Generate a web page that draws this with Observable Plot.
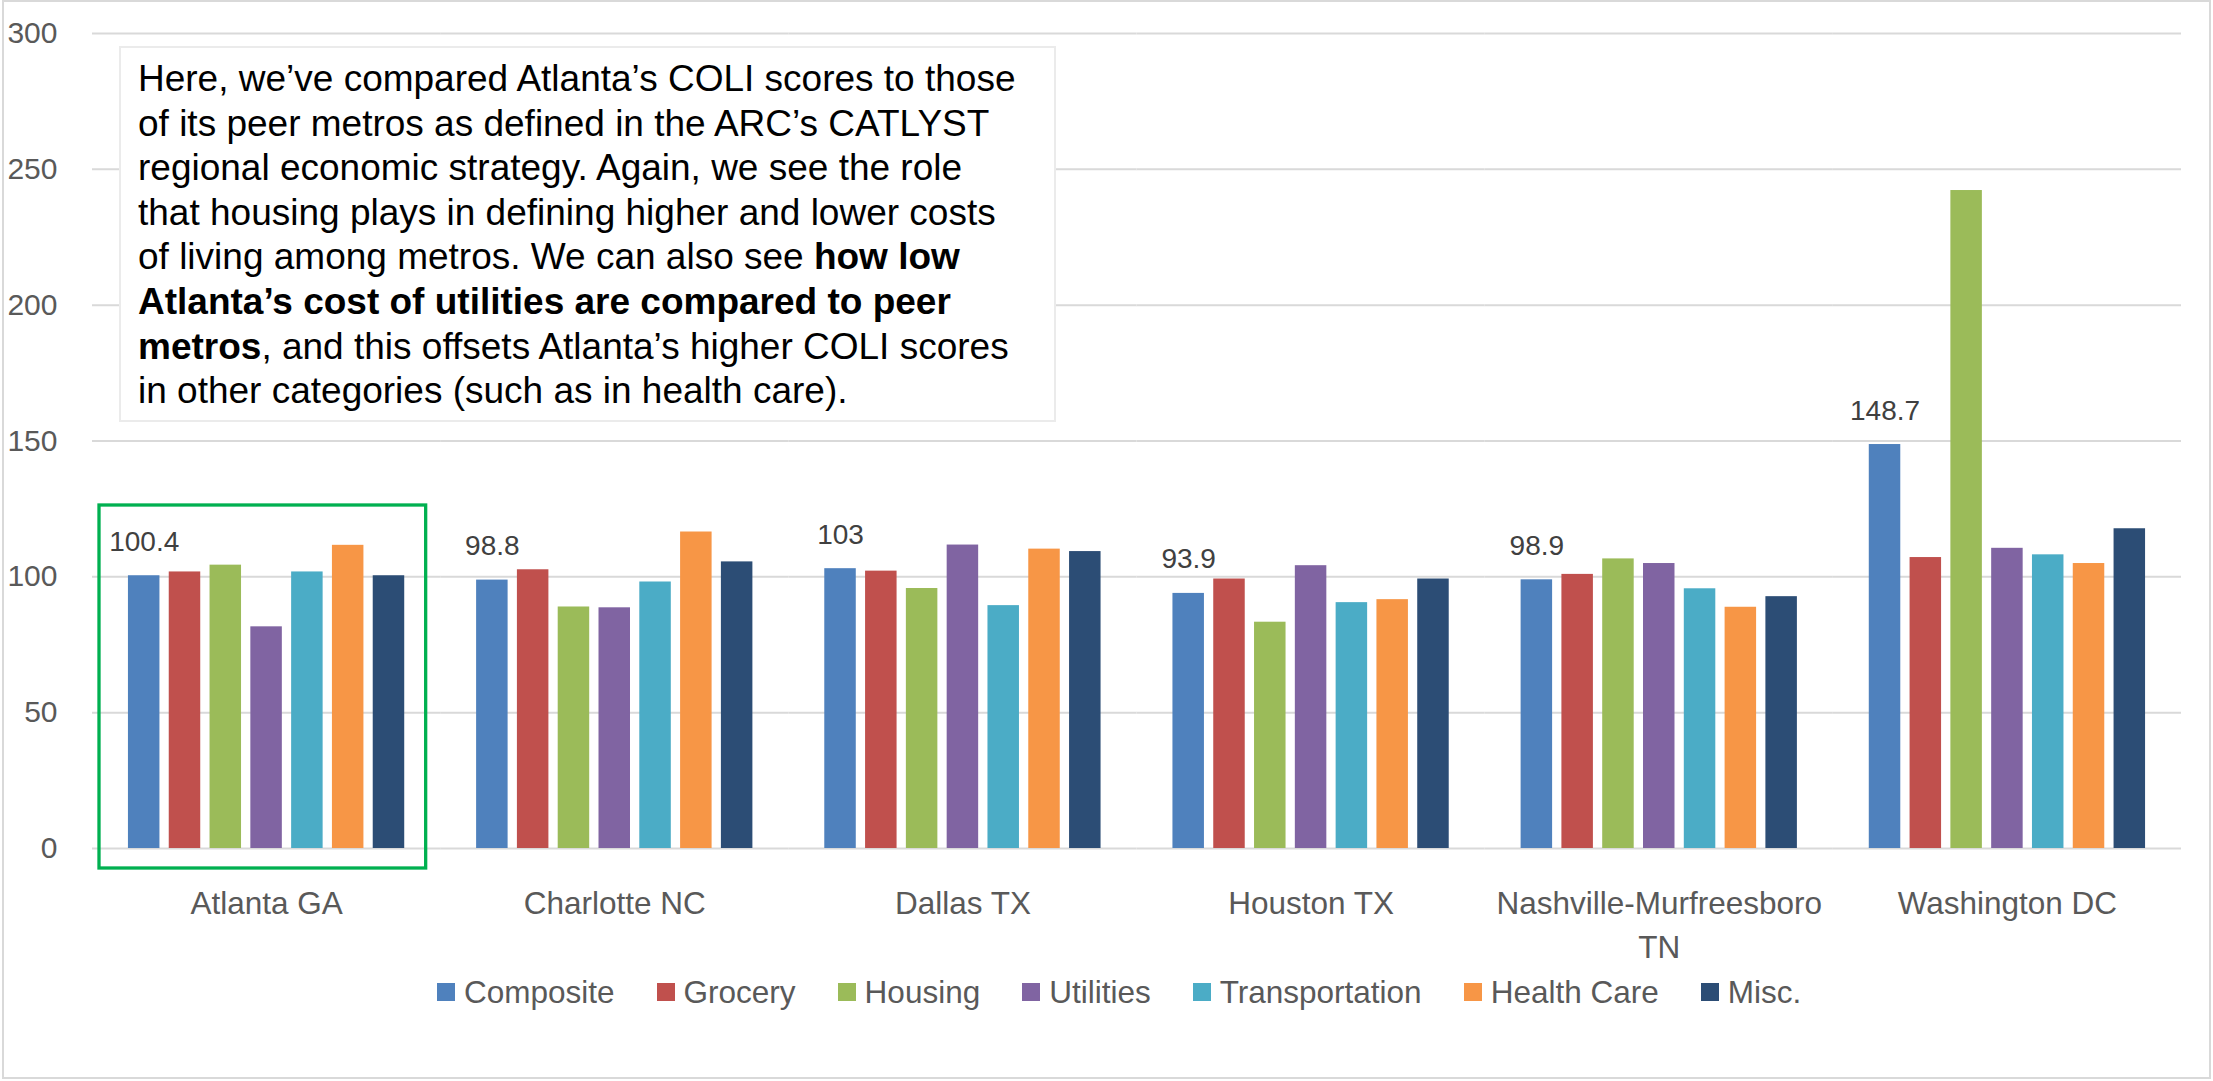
<!DOCTYPE html>
<html>
<head>
<meta charset="utf-8">
<script src="https://cdn.jsdelivr.net/npm/d3@7"></script>
<script src="https://cdn.jsdelivr.net/npm/@observablehq/plot@0.6"></script>
<style>
  html, body { margin: 0; padding: 0; background: #fff; }
  #wrap { position: relative; width: 2213px; height: 1081px; overflow: hidden; font-family: "Liberation Sans", Arial, sans-serif; }
  #wrap > svg { position: absolute; left: 0; top: 0; }
  #frame { position: absolute; left: 2px; top: 0; width: 2205px; height: 1075px; border: 2px solid #d9d9d9; pointer-events: none; }
  #note { position: absolute; left: 119px; top: 46px; width: 937px; height: 376px; box-sizing: border-box;
          border: 2px solid #ebebeb; background: #fff; padding: 9px 0 0 17px;
          font-size: 37px; line-height: 44.6px; color: #000; white-space: nowrap; }
  #legend { position: absolute; left: 437px; top: 972px; height: 40px; display: flex; align-items: center; }
  #legend .lg-swatches { margin: 0 !important; font-size: 31.5px; font-family: "Liberation Sans", Arial, sans-serif; color: #595959; min-height: 0 !important; }
  #legend .lg-swatch { margin-right: 42px !important; }
  #legend .lg-swatch:last-child { margin-right: 0 !important; }
  #legend .lg-swatch > svg { margin-right: 9px !important; }
</style>
</head>
<body>
<div id="wrap">
  <div id="note">Here, we’ve compared Atlanta’s COLI scores to those<br>of its peer metros as defined in the ARC’s CATLYST<br>regional economic strategy. Again, we see the role<br>that housing plays in defining higher and lower costs<br>of living among metros. We can also see <b>how low</b><br><b>Atlanta’s cost of utilities are compared to peer</b><br><b>metros</b>, and this offsets Atlanta’s higher COLI scores<br>in other categories (such as in health care).</div>
  <div id="legend"></div>
  <div id="frame"></div>
</div>
<script>
// ---- data ----
const cities = ["Atlanta GA", "Charlotte NC", "Dallas TX", "Houston TX", "Nashville-Murfreesboro TN", "Washington DC"];
const cityTickLabels = ["Atlanta GA", "Charlotte NC", "Dallas TX", "Houston TX", "Nashville-Murfreesboro\nTN", "Washington DC"];
const categories = ["Composite", "Grocery", "Housing", "Utilities", "Transportation", "Health Care", "Misc."];
const composite      = [100.4,  98.8, 103,    93.9,  98.9, 148.7];
const grocery        = [101.8, 102.6, 102.1,  99.2, 100.9, 107.1];
const housing        = [104.3,  88.9,  95.7,  83.3, 106.6, 242.2];
const utilities      = [ 81.6,  88.6, 111.7, 104.1, 104.9, 110.5];
const transportation = [101.8,  98.1,  89.4,  90.5,  95.6, 108.1];
const healthCare     = [111.6, 116.5, 110.2,  91.6,  88.8, 104.9];
const misc           = [100.4, 105.5, 109.3,  99.2,  92.7, 117.7];
const palette = ["#4f81bd", "#c0504d", "#9bbb59", "#8064a2", "#4bacc6", "#f79646", "#2c4d75"];
const yTicks = [0, 50, 100, 150, 200, 250, 300];
const highlightCity = "Atlanta GA";

const series = [composite, grocery, housing, utilities, transportation, healthCare, misc];
const rows = [];
cities.forEach((city, i) => {
  categories.forEach((category, j) => {
    rows.push({city, category, value: series[j][i]});
  });
});

const chart = Plot.plot({
  width: 2213,
  height: 960,
  marginLeft: 92,
  marginRight: 32,
  marginTop: 33,
  marginBottom: 112,
  style: {fontFamily: "Liberation Sans, Arial, sans-serif", fontSize: "30px", color: "#595959", background: "transparent", overflow: "visible"},
  fx: {domain: cities, padding: 0, round: false, label: null},
  x: {domain: categories, paddingInner: 0.228, paddingOuter: 0.881, round: false, axis: null},
  y: {domain: [0, 300], label: null},
  color: {domain: categories, range: palette},
  marks: [
    Plot.gridY(yTicks, {stroke: "#d9d9d9", strokeOpacity: 1, strokeWidth: 2}),
    Plot.axisY(yTicks, {tickSize: 0, tickPadding: 35, fontSize: 30, label: null}),
    Plot.axisFx({anchor: "bottom", tickSize: 0, tickPadding: 34, fontSize: 31.5, lineHeight: 1.4, label: null,
                 tickFormat: d => cityTickLabels[cities.indexOf(d)]}),
    Plot.barY(rows, {fx: "city", x: "category", y: "value", fill: "category"}),
    Plot.text(rows.filter(d => d.category === "Composite"),
              {fx: "city", x: "category", y: "value", text: d => String(d.value), dy: -34, fontSize: 28, fill: "#404040"}),
    Plot.rect([highlightCity], {fx: d => d, fill: "none", stroke: "#00b050", strokeWidth: 3.3,
                                insetLeft: 7, insetRight: 14.5, insetTop: 472, insetBottom: -20})
  ]
});

const wrap = document.getElementById("wrap");
wrap.insertBefore(chart, wrap.firstChild);
const legend = chart.legend("color", {legend: "swatches", swatchSize: 18, className: "lg"});
document.getElementById("legend").appendChild(legend);
</script>
</body>
</html>
